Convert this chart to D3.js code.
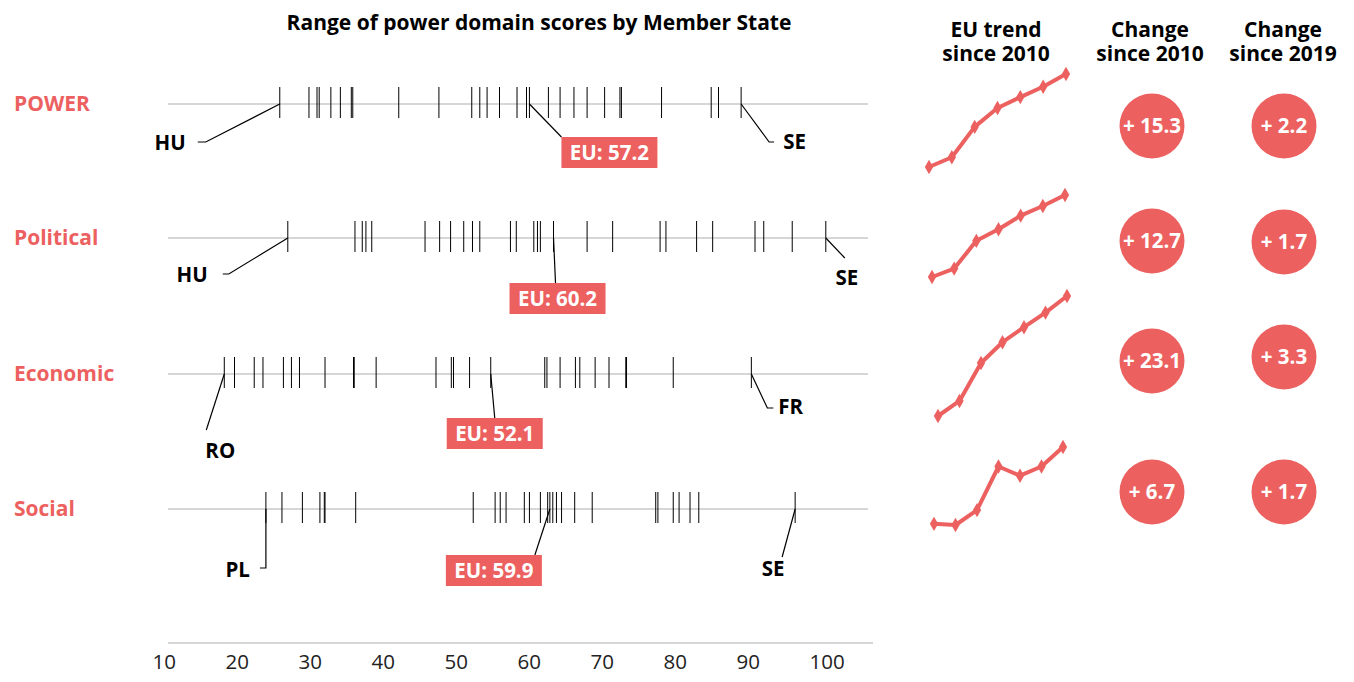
<!DOCTYPE html>
<html>
<head>
<meta charset="utf-8">
<script src="https://cdn.jsdelivr.net/npm/d3@7"></script>
<style>
  body { margin: 0; background: #fff; }
  svg { font-family: 'Open Sans', sans-serif; }
</style>
</head>
<body>
<svg width="1354" height="682"></svg>
<script>
// strip plot values, one tick per Member State
const domains = ['POWER', 'Political', 'Economic', 'Social']

const powerScores = [25.9, 29.9, 31.0, 31.3, 32.9, 34.2, 35.7, 35.9, 42.2, 47.7, 52.2, 53.3, 54.3, 56.0,
  58.4, 59.7, 62.7, 64.3, 66.2, 68.0, 70.4, 72.5, 72.7, 78.2, 85.0, 86.0, 89.1]
const politicalScores = [27.0, 36.2, 37.2, 37.7, 38.5, 45.8, 47.8, 49.3, 51.1, 52.3, 53.3, 57.5, 58.3,
  60.7, 61.2, 61.6, 68.0, 71.5, 78.0, 78.8, 83.0, 85.2, 91.0, 92.2, 96.1, 100.7]
const economicScores = [18.3, 19.7, 22.4, 23.6, 26.4, 27.5, 28.6, 32.1, 36.0, 36.1, 39.1, 47.3, 49.4,
  49.7, 51.9, 62.2, 62.5, 64.3, 66.4, 67.0, 69.1, 71.0, 73.3, 73.4, 79.8, 90.5]
const socialScores = [24.0, 26.2, 29.0, 31.4, 32.0, 32.1, 36.3, 52.4, 55.4, 56.1, 56.9, 59.4, 60.1,
  61.6, 62.6, 63.3, 63.8, 64.5, 66.3, 68.7, 77.4, 77.7, 79.8, 80.6, 82.1, 83.3, 96.5]

// where the EU tick sits on each strip, and the score printed in its box
const euMarks = [60.1, 63.4, 54.8, 62.9]
const euScores = [57.2, 60.2, 52.1, 59.9]
const lowCountries = ['HU', 'HU', 'RO', 'PL']
const highCountries = ['SE', 'SE', 'FR', 'SE']

const axisTicks = [10, 20, 30, 40, 50, 60, 70, 80, 90, 100]

// EU trend lines
const trendYears = ['2010', '2012', '2015', '2017', '2018', '2019', '2020']
const powerTrend = [41.9, 43.5, 48.5, 51.6, 53.4, 55.1, 57.2]
const politicalTrend = [47.5, 48.8, 53.1, 54.9, 57.0, 58.5, 60.2]
const economicTrend = [29.0, 31.9, 39.2, 43.2, 46.1, 48.9, 52.1]
const socialTrend = [53.2, 53.1, 54.4, 58.2, 57.4, 58.2, 59.9]

const change2010 = [15.3, 12.7, 23.1, 6.7]
const change2019 = [2.2, 1.7, 3.3, 1.7]

// ---- layout ----
const red = '#ec6160'
const rowY = [104, 238, 374, 509]
const scores = [powerScores, politicalScores, economicScores, socialScores]
const trends = [powerTrend, politicalTrend, economicTrend, socialTrend]

// label placement relative to the tick: line end, optional elbow end, text spot
const lowNotes = [
  { to: [-74, 38], elbow: -82, text: [-94, 39], anchor: 'end' },
  { to: [-59, 36], elbow: -65, text: [-80, 37], anchor: 'end' },
  { to: [-18, 56], elbow: null, text: [-4, 77], anchor: 'middle' },
  { to: [0, 59], elbow: -6, text: [-16, 61], anchor: 'end' }
]
const highNotes = [
  { to: [28, 38], elbow: 33, text: [42, 38], anchor: 'start' },
  { to: [19, 20], elbow: null, text: [21, 40], anchor: 'middle' },
  { to: [16, 34], elbow: 22, text: [27, 33], anchor: 'start' },
  { to: [-13, 48], elbow: null, text: [-22, 60], anchor: 'middle' }
]
const euNotes = [
  { to: [32, 33], box: [32, 33] },
  { to: [2, 45], box: [-44, 45] },
  { to: [4, 44], box: [-44, 44] },
  { to: [-15, 46], box: [-104, 46] }
]

const trendBox = [
  { x: [929, 1066], y: [167, 74] },
  { x: [932, 1065], y: [277, 195] },
  { x: [938, 1067], y: [416, 296] },
  { x: [934, 1063], y: [525, 447] }
]
const circleY = [[126, 126], [241, 242], [361, 357], [492, 492]]

let svg = d3.select('svg')

let x = d3.scaleLinear()
  .domain([10, 100])
  .range([163.7, 820.7])

svg.append('text')
  .text('Range of power domain scores by Member State')
  .attr('x', 539)
  .attr('y', 30)
  .attr('text-anchor', 'middle')
  .attr('font-size', 21)
  .attr('font-weight', 700)

// right hand headers, two lines each
let headers = [
  { x: 996, lines: ['EU trend', 'since 2010'] },
  { x: 1150, lines: ['Change', 'since 2010'] },
  { x: 1283, lines: ['Change', 'since 2019'] }
]
headers.forEach(h => {
  let t = svg.append('text')
    .attr('y', 37)
    .attr('text-anchor', 'middle')
    .attr('font-size', 21)
    .attr('font-weight', 700)
  h.lines.forEach((line, i) => {
    t.append('tspan')
      .text(line)
      .attr('x', h.x)
      .attr('dy', i === 0 ? 0 : 24)
  })
})

domains.forEach((name, i) => {
  let y = rowY[i]
  let row = svg.append('g')

  row.append('text')
    .text(name)
    .attr('x', 14)
    .attr('y', y)
    .attr('dy', '0.35em')
    .attr('fill', red)
    .attr('font-size', 21)
    .attr('font-weight', 700)

  row.append('line')
    .attr('x1', 168)
    .attr('x2', 868)
    .attr('y1', y)
    .attr('y2', y)
    .attr('stroke', '#c9c9c9')
    .attr('stroke-width', 1.5)

  row.selectAll('.tick-ms')
    .data(scores[i].concat([euMarks[i]]))
    .enter()
    .append('line')
    .attr('class', 'tick-ms')
    .attr('x1', d => x(d))
    .attr('x2', d => x(d))
    .attr('y1', y - 17)
    .attr('y2', y + 14)
    .attr('stroke', '#000')
    .attr('stroke-width', 1)

  // min / max country call-outs
  let ends = [
    { v: d3.min(scores[i]), note: lowNotes[i], label: lowCountries[i] },
    { v: d3.max(scores[i]), note: highNotes[i], label: highCountries[i] }
  ]
  ends.forEach(e => {
    let tx = x(e.v)
    let pts = [[tx, y], [tx + e.note.to[0], y + e.note.to[1]]]
    if (e.note.elbow !== null) pts.push([tx + e.note.elbow, y + e.note.to[1]])
    row.append('path')
      .attr('d', d3.line()(pts))
      .attr('fill', 'none')
      .attr('stroke', '#000')
      .attr('stroke-width', 1.2)
    row.append('text')
      .text(e.label)
      .attr('x', tx + e.note.text[0])
      .attr('y', y + e.note.text[1])
      .attr('dy', '0.35em')
      .attr('text-anchor', e.note.anchor)
      .attr('font-size', 20.5)
      .attr('font-weight', 700)
  })

  // EU call-out
  let ex = x(euMarks[i])
  let n = euNotes[i]
  row.append('line')
    .attr('x1', ex)
    .attr('y1', y)
    .attr('x2', ex + n.to[0])
    .attr('y2', y + n.to[1])
    .attr('stroke', '#000')
    .attr('stroke-width', 1.2)
  row.append('rect')
    .attr('x', ex + n.box[0])
    .attr('y', y + n.box[1])
    .attr('width', 96)
    .attr('height', 31)
    .attr('fill', red)
  row.append('text')
    .text('EU: ' + euScores[i])
    .attr('x', ex + n.box[0] + 48)
    .attr('y', y + n.box[1] + 15.5)
    .attr('dy', '0.35em')
    .attr('text-anchor', 'middle')
    .attr('fill', '#fff')
    .attr('font-size', 20.5)
    .attr('font-weight', 700)

  // EU trend sparkline
  let tb = trendBox[i]
  let tx = d3.scalePoint().domain(trendYears).range(tb.x)
  let ty = d3.scaleLinear().domain(d3.extent(trends[i])).range(tb.y)
  let pts = trendYears.map((yr, k) => [tx(yr), ty(trends[i][k])])

  row.append('path')
    .attr('d', d3.line()(pts))
    .attr('fill', 'none')
    .attr('stroke', red)
    .attr('stroke-width', 4)
    .attr('stroke-linejoin', 'round')
  row.selectAll('.mark')
    .data(pts)
    .enter()
    .append('path')
    .attr('class', 'mark')
    .attr('d', d3.symbol().type(d3.symbolDiamond).size(60))
    .attr('transform', d => `translate(${d[0]},${d[1]})`)
    .attr('fill', red)

  // change bubbles
  let bubbles = [
    { cx: 1152, cy: circleY[i][0], v: change2010[i] },
    { cx: 1284, cy: circleY[i][1], v: change2019[i] }
  ]
  bubbles.forEach(b => {
    row.append('circle')
      .attr('cx', b.cx)
      .attr('cy', b.cy)
      .attr('r', 32.5)
      .attr('fill', red)
    row.append('text')
      .text('+ ' + b.v)
      .attr('x', b.cx)
      .attr('y', b.cy)
      .attr('dy', '0.35em')
      .attr('text-anchor', 'middle')
      .attr('fill', '#fff')
      .attr('font-size', 20.5)
      .attr('font-weight', 700)
  })
})

// bottom axis
svg.append('line')
  .attr('x1', 168)
  .attr('x2', 873)
  .attr('y1', 643)
  .attr('y2', 643)
  .attr('stroke', '#c9c9c9')
  .attr('stroke-width', 1.5)

let axis = svg.append('g')
  .attr('transform', 'translate(0, 651)')
  .call(d3.axisBottom(x).tickValues(axisTicks).tickSize(0).tickFormat(d3.format('')))

axis.select('.domain').remove()
axis.selectAll('text')
  .attr('text-anchor', 'start')
  .attr('dx', -11.7)
  .attr('font-family', "'Open Sans', sans-serif")
  .attr('font-size', 20.5)
  .attr('fill', '#222')
</script>
</body>
</html>
